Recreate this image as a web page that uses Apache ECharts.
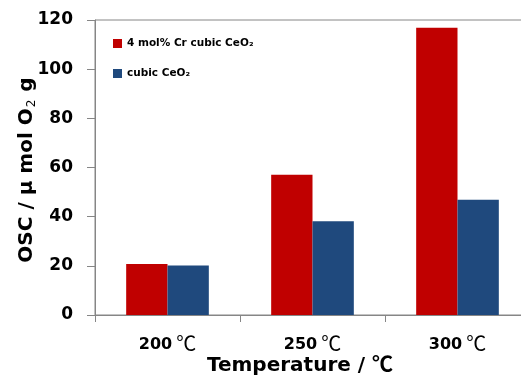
<!DOCTYPE html>
<html><head><meta charset="utf-8">
<script src="https://cdn.jsdelivr.net/npm/echarts@6/dist/echarts.min.js"></script>
<style>html,body{margin:0;padding:0;background:#fff;overflow:hidden}#c{width:530px;height:378px}</style>
</head><body><div id="c"></div>
<script>
const categories = ['200', '250', '300'];
const unit = '℃';
const crCeO2 = [20.7, 57.1, 116.8];
const cubicCeO2 = [20.1, 38.1, 46.9];
const yTicks = [0, 20, 40, 60, 80, 100, 120];
const seriesNames = ['4 mol% Cr cubic CeO₂', 'cubic CeO₂'];

const FONT = 'DejaVu Sans';
const CJK = 'Noto Sans CJK SC';
const chart = echarts.init(document.getElementById('c'), null, {renderer: 'canvas'});
chart.setOption({
  animation: false,
  backgroundColor: '#fff',
  grid: {left: 95, top: 20, right: 0, bottom: 63, show: true, borderColor: '#868686', borderWidth: 1, containLabel: false},
  legend: {
    orient: 'vertical', left: 108, top: 33, itemWidth: 9, itemHeight: 9, itemGap: 19, icon: 'rect',
    data: seriesNames,
    textStyle: {fontFamily: FONT, fontWeight: 'bold', fontSize: 10.5, color: '#000'}
  },
  xAxis: {
    type: 'category', data: categories,
    axisLine: {lineStyle: {color: '#868686'}},
    axisTick: {show: true, length: 7, lineStyle: {color: '#868686'}},
    axisLabel: {
      margin: 18,
      formatter: v => '{n|' + v + '}{u|' + unit + '}',
      rich: {
        n: {fontFamily: FONT, fontWeight: 'bold', fontSize: 16, color: '#000'},
        u: {fontFamily: CJK, fontSize: 20, color: '#000', padding: [0, 0, 3, 4]}
      }
    }
  },
  yAxis: {
    type: 'value', min: yTicks[0], max: yTicks[yTicks.length - 1], interval: 20,
    axisLine: {show: true, lineStyle: {color: '#868686'}},
    axisTick: {show: true, length: 8, lineStyle: {color: '#868686'}},
    splitLine: {show: false},
    axisLabel: {fontFamily: FONT, fontWeight: 'bold', fontSize: 17, color: '#000', margin: 22}
  },
  series: [
    {name: seriesNames[0], type: 'bar', data: crCeO2, barGap: '0%', barCategoryGap: '43%', itemStyle: {color: '#C00000'}},
    {name: seriesNames[1], type: 'bar', data: cubicCeO2, itemStyle: {color: '#1F497D'}}
  ],
  graphic: [
    {type: 'text', x: 300, y: 366, style: {
      text: '{t|Temperature / }{u|℃}', align: 'center', verticalAlign: 'middle',
      rich: {
        t: {fontFamily: FONT, fontWeight: 'bold', fontSize: 20, fill: '#000'},
        u: {fontFamily: CJK, fontWeight: 'bold', fontSize: 21, fill: '#000', padding: [0, 0, 5, 0]}
      }
    }},
    {type: 'text', x: 27, y: 170, rotation: Math.PI / 2, style: {
      text: '{t|OSC / μ mol O}{s|2}{t| g}', align: 'center', verticalAlign: 'middle',
      rich: {
        t: {fontFamily: FONT, fontWeight: 'bold', fontSize: 20, fill: '#000', verticalAlign: 'middle'},
        s: {fontFamily: FONT, fontSize: 12, fill: '#000', verticalAlign: 'bottom', padding: [10, 1, 0, 1]}
      }
    }}
  ]
});
</script></body></html>
